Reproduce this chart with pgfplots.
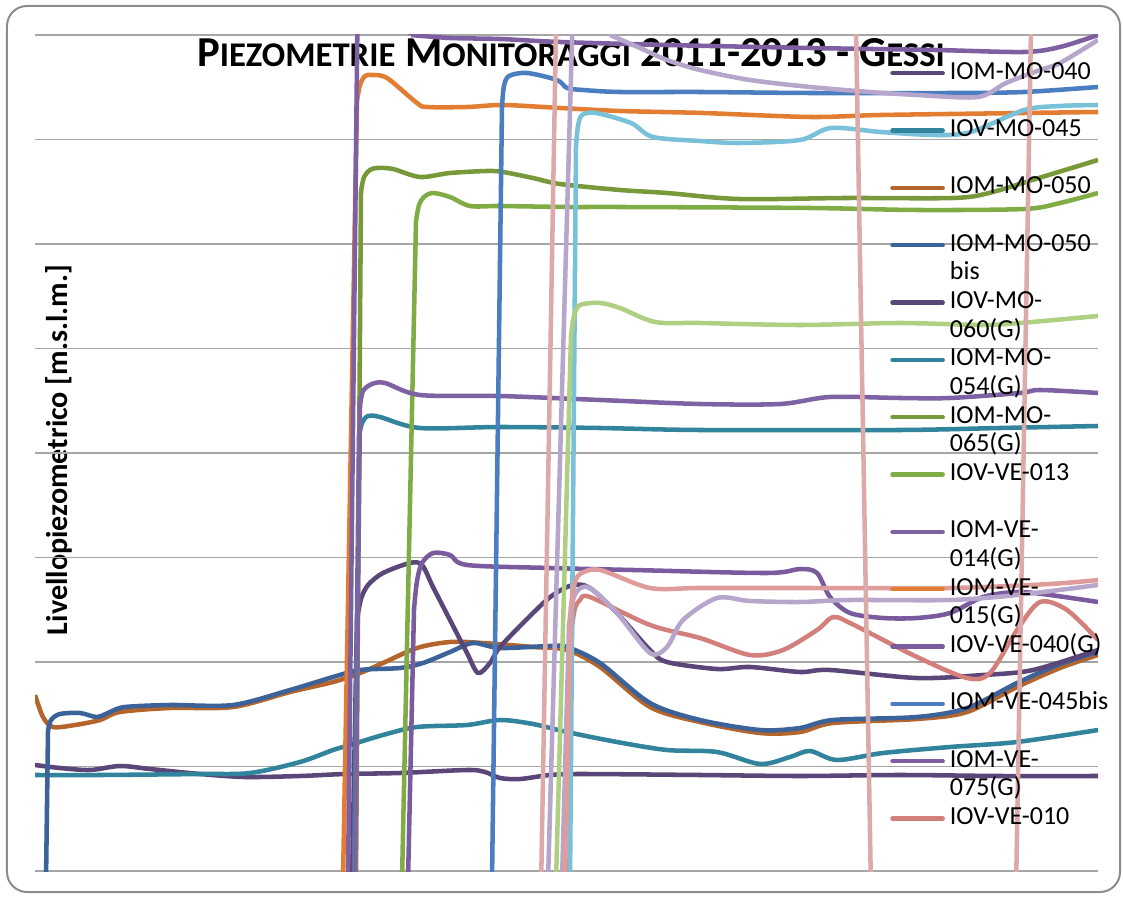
\documentclass[border=0pt]{standalone}
\usepackage{fontspec}
\setmainfont{Carlito}
\usepackage{pgfplots}
\pgfplotsset{compat=1.18}
\definecolor{cA}{HTML}{5A4678}
\definecolor{cB}{HTML}{31849B}
\definecolor{cC}{HTML}{B3652B}
\definecolor{cD}{HTML}{3B6399}
\definecolor{cG}{HTML}{7F62A3}
\definecolor{cI}{HTML}{77993A}
\definecolor{cJ}{HTML}{80AC45}
\definecolor{cK}{HTML}{E37D32}
\definecolor{cF}{HTML}{7A5C9E}
\definecolor{cM}{HTML}{4A7EC0}
\definecolor{cL}{HTML}{7D5FA2}
\definecolor{cR}{HTML}{D3807C}
\definecolor{cN}{HTML}{78C1D8}
\definecolor{cLG}{HTML}{AFD083}
\definecolor{cLP}{HTML}{B7A6CC}
\definecolor{cS}{HTML}{DE9D9A}
\definecolor{cP}{HTML}{DDAAAA}
\definecolor{gridc}{HTML}{A6A6A6}
\definecolor{bordc}{HTML}{8C8C8C}
\newcommand{\fsc}{\fontsize{26}{30}\selectfont}
\DeclareRobustCommand{\two}[2]{\begin{tabular}[t]{@{}l@{}}#1\\#2\end{tabular}}
\begin{document}
\begin{tikzpicture}
\useasboundingbox (-26.25pt,-18.75pt) rectangle (816pt,653.25pt);
\draw[color=bordc, line width=1.5pt, rounded corners=15pt] (-21pt,-15.75pt) rectangle (813.75pt,648.75pt);
\node[anchor=base, font=\bfseries\fontsize{32}{36}\selectfont, inner sep=0pt] at (402pt,603pt) {P{\fsc IEZOMETRIE} M{\fsc ONITORAGGI} 2011-2013 - G{\fsc ESSI}};
\node[rotate=90, anchor=base, font=\bfseries\fontsize{22.6}{26}\selectfont, inner sep=0pt] at (24.75pt,315.75pt) {Livellopiezometrico [m.s.l.m.]};
\begin{axis}[at={(0pt,0pt)}, anchor=south west, scale only axis,
  width=797.25pt, height=627pt,
  xmin=35, xmax=1098, ymin=0, ymax=836,
  axis line style={draw=none}, tick style={draw=none},
  xtick=\empty, ytick={0,104.5,209,313.5,418,522.5,627,731.5,836}, yticklabels={},
  ymajorgrids, major grid style={color=gridc, line width=1.1pt},
  every axis plot/.append style={line width=3.4pt, line join=round, smooth, tension=0.5},
  jump/.style={sharp plot, forget plot},
  legend image code/.code={\draw[#1, line cap=round, line width=3.2pt] (1.6pt,0pt) -- (39.4pt,0pt);},
  legend cell align=left,
  legend style={draw=none, fill=none, at={(0.8043,0.9697)}, anchor=north west, inner sep=0pt,
    row sep=24pt, column sep=3.75pt,
    nodes={inner sep=0pt, text height=14pt, text depth=5pt},
    font=\fontsize{19.5}{21.4}\selectfont},
]
% IOM-MO-040
\addplot[color=cA] coordinates {(35,106)(60,103)(90,101)(120,105)(150,102)(200,97)(245,94)(300,95)(345,97)(400,98)(467,101)(485,99)(500,93)(520,92)(550,96)(583,97)(700,96)(800,95)(900,96)(1000,95)(1098,95)};
\addlegendentry{IOM-MO-040}
% IOV-MO-045
\addplot[color=cB] coordinates {(35,96)(100,96)(200,97)(250,98)(300,109)(333,121)(350,126)(383,136)(417,144)(467,146)(500,151)(533,147)(567,139)(617,129)(667,121)(717,119)(760,107)(790,114)(810,120)(837,111)(883,118)(950,124)(1017,129)(1098,141)};
\addlegendentry{IOV-MO-045}
% IOM-MO-050
\addplot[color=cC] coordinates {(35,176)(43,154)(53,144)(75,146)(100,151)(120,159)(170,163)(233,164)(290,179)(333,189)(360,198)(383,208)(417,223)(450,229)(483,228)(533,224)(567,221)(600,204)(650,164)(700,149)(760,138)(800,139)(833,148)(917,152)(967,159)(1017,184)(1060,203)(1098,216)};
\addlegendentry{IOM-MO-050}
% IOM-MO-050 bis
\addplot[color=cD, jump] coordinates {(46,-10)(48,140)};
\addplot[color=cD] coordinates {(48,140)(51,151)(60,157)(80,158)(97,154)(110,159)(125,164)(170,166)(233,166)(290,181)(333,194)(360,201)(400,203)(423,208)(450,219)(473,228)(500,223)(550,225)(567,224)(600,208)(650,168)(700,151)(760,141)(800,143)(833,151)(917,154)(967,163)(1017,188)(1060,207)(1098,219)};
\addlegendentry{\two{IOM-MO-050}{bis}}
% IOV-MO-060(G)
\addplot[color=cA, jump] coordinates {(352,-10)(357,251)};
\addplot[color=cA] coordinates {(357,251)(361,272)(368,286)(383,298)(410,308)(422,306)(433,284)(450,251)(467,218)(478,198)(490,208)(500,224)(533,258)(553,276)(573,286)(590,283)(617,258)(650,221)(667,209)(717,202)(750,204)(800,199)(830,201)(917,193)(983,196)(1033,201)(1098,221)};
\addlegendentry{\two{IOV-MO-}{060(G)}}
% IOM-MO-054(G)
\addplot[color=cB, jump] coordinates {(354,-10)(359,435)};
\addplot[color=cB] coordinates {(359,435)(362,448)(368,455)(380,454)(420,443)(500,444)(600,443)(700,441)(900,441)(1000,443)(1098,445)};
\addlegendentry{\two{IOM-MO-}{054(G)}}
% IOM-MO-065(G)
\addplot[color=cI, jump] coordinates {(356,-10)(361,680)};
\addplot[color=cI] coordinates {(361,680)(364,694)(370,701)(377,703)(393,702)(420,694)(450,698)(487,700)(503,699)(533,693)(560,687)(620,681)(667,678)(739,672)(846,673)(953,673)(989,678)(1042,694)(1098,711)};
\addlegendentry{\two{IOM-MO-}{065(G)}}
% IOV-VE-013
\addplot[color=cJ, jump] coordinates {(402,-10)(416,650)};
\addplot[color=cJ] coordinates {(416,650)(419,666)(424,674)(433,678)(450,674)(470,665)(500,665)(567,664)(620,664)(810,663)(917,661)(1024,662)(1060,668)(1098,678)};
\addlegendentry{IOV-VE-013}
% IOM-VE-014(G)
\addplot[color=cG, jump] coordinates {(355,-10)(360,465)};
\addplot[color=cG] coordinates {(360,465)(363,480)(372,487)(385,488)(420,476)(500,475)(600,471)(700,467)(780,467)(830,474)(900,473)(950,473)(1020,478)(1040,481)(1098,478)};
\addlegendentry{\two{IOM-VE-}{014(G)}}
% IOM-VE-015(G)
\addplot[color=cK, jump] coordinates {(343,-10)(357,770)};
\addplot[color=cK] coordinates {(357,770)(360,786)(365,795)(372,796)(387,793)(417,768)(427,764)(467,764)(503,766)(560,763)(620,760)(703,758)(810,754)(881,756)(1024,758)(1098,759)};
\addlegendentry{\two{IOM-VE-}{015(G)}}
% IOV-VE-040(G)
\addplot[color=cF, jump] coordinates {(408,-10)(414,262)};
\addplot[color=cF] coordinates {(414,262)(417,290)(422,308)(433,318)(450,316)(467,306)(550,303)(633,301)(767,298)(800,302)(817,298)(830,274)(850,258)(883,253)(917,253)(950,258)(983,274)(1017,279)(1050,276)(1098,269)};
\addlegendentry{IOV-VE-040(G)}
% IOM-VE-045bis
\addplot[color=cM, jump] coordinates {(492,-10)(502,765)};
\addplot[color=cM] coordinates {(502,765)(504,785)(509,795)(527,798)(557,791)(567,783)(583,781)(620,779)(700,779)(810,778)(953,778)(1024,779)(1098,784)};
\addlegendentry{IOM-VE-045bis}
% IOM-VE-075(G)
\addplot[color=cL, jump] coordinates {(348,-10)(358,900)(395,900)(411,836)};
\addplot[color=cL] coordinates {(411,836)(450,833)(500,832)(560,829)(667,826)(810,823)(935,821)(1024,819)(1060,824)(1098,836)};
\addlegendentry{\two{IOM-VE-}{075(G)}}
% IOV-VE-010
\addplot[color=cR, jump] coordinates {(566,-10)(572,245)};
\addplot[color=cR] coordinates {(572,245)(575,263)(580,271)(590,274)(650,246)(700,233)(750,216)(783,221)(817,241)(833,254)(850,248)(917,214)(967,193)(990,198)(1017,241)(1040,269)(1067,261)(1098,231)};
\addlegendentry{IOV-VE-010}
% series beyond the visible legend
\addplot[color=cN, jump] coordinates {(570,-10)(576,725)};
\addplot[color=cN, forget plot] coordinates {(576,725)(578,745)(582,756)(596,758)(631,748)(653,734)(700,730)(739,728)(800,731)(831,743)(881,739)(935,736)(971,739)(1024,761)(1060,765)(1098,766)};
\addplot[color=cLG, jump] coordinates {(556,-10)(571,535)};
\addplot[color=cLG, forget plot] coordinates {(571,535)(574,555)(580,566)(600,568)(620,563)(655,549)(700,548)(800,546)(900,548)(980,546)(1020,548)(1098,555)};
\addplot[color=cLP, jump] coordinates {(562,-10)(569,245)};
\addplot[color=cLP, forget plot] coordinates {(569,245)(572,268)(578,281)(590,283)(617,258)(650,218)(667,224)(683,251)(717,273)(750,270)(800,269)(850,271)(950,271)(1017,276)(1098,286)};
\addplot[color=cLP, jump] coordinates {(548,-10)(574,900)(595,900)(610,836)};
\addplot[color=cLP, forget plot] coordinates {(610,836)(640,823)(667,811)(700,801)(750,791)(810,784)(870,779)(917,776)(978,774)(1006,788)(1040,801)(1060,808)(1098,831)};
\addplot[color=cS, jump] coordinates {(565,-10)(571,265)};
\addplot[color=cS, forget plot] coordinates {(571,265)(574,285)(580,297)(600,301)(650,283)(700,283)(800,283)(950,283)(1050,287)(1098,291)};
\addplot[color=cP, jump] coordinates {(35,-20)(541,-20)(557,900)(855,900)(871,-20)(1016,-20)(1032,900)(1098,900)};
\end{axis}
\end{tikzpicture}
\end{document}
